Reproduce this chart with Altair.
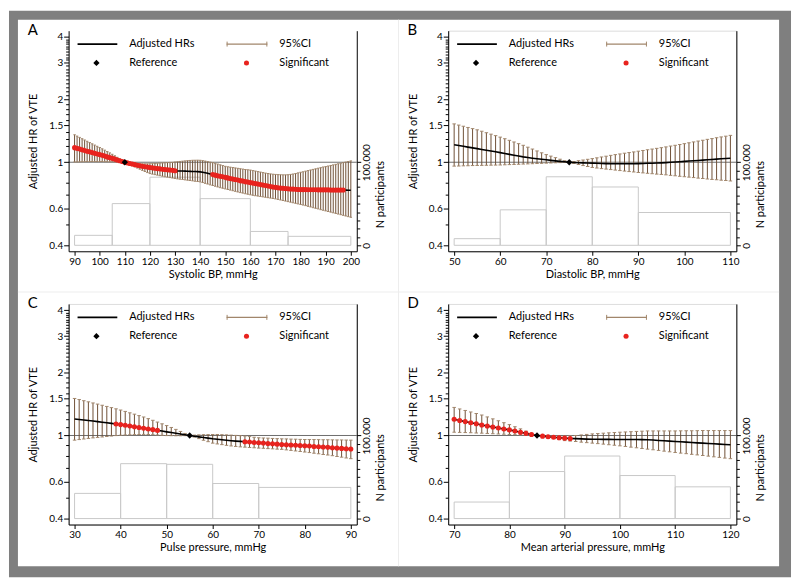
import altair as alt
import pandas as pd

FONT = "Lato"
SPIKE = "#6f5036"
CAP = "#a1866b"
RED = "#e8231e"
HISTC = "#c9c9c9"

# ---------------- Panel A : Systolic BP (x = 90 .. 200, step 1)
A_start = 90
A_hr = [1.175, 1.166, 1.157, 1.148, 1.139, 1.130, 1.122, 1.113, 1.105, 1.096, 1.088,
        1.079, 1.070, 1.061, 1.052, 1.044, 1.035, 1.026, 1.017, 1.009, 1.000,
        0.993, 0.986, 0.980, 0.974, 0.968, 0.962, 0.957, 0.952, 0.948, 0.944,
        0.940, 0.936, 0.932, 0.929, 0.926, 0.923, 0.920, 0.917, 0.914, 0.911,
        0.909, 0.908, 0.907, 0.906, 0.905, 0.904, 0.903, 0.902, 0.901, 0.899,
        0.895, 0.890, 0.885, 0.879, 0.873, 0.867, 0.861, 0.856, 0.851, 0.846,
        0.841, 0.836, 0.831, 0.826, 0.821, 0.816, 0.812, 0.807, 0.803, 0.798,
        0.794, 0.790, 0.786, 0.782, 0.777, 0.773, 0.769, 0.765, 0.761, 0.758,
        0.755, 0.752, 0.750, 0.748, 0.746, 0.744, 0.743, 0.741, 0.740, 0.739,
        0.739, 0.739, 0.738, 0.738, 0.738, 0.738, 0.737, 0.737, 0.737, 0.737,
        0.737, 0.736, 0.736, 0.736, 0.736, 0.735, 0.735, 0.735, 0.734, 0.734]
A_lo = [1.003, 1.004, 1.005, 1.006, 1.007, 1.008, 1.008, 1.008, 1.008, 1.008, 1.008,
        1.008, 1.007, 1.007, 1.006, 1.005, 1.004, 1.003, 1.002, 1.001, 1.000,
        0.987, 0.975, 0.962, 0.950, 0.938, 0.926, 0.914, 0.903, 0.892, 0.882,
        0.877, 0.872, 0.867, 0.862, 0.857, 0.852, 0.848, 0.844, 0.840, 0.836,
        0.832, 0.829, 0.826, 0.823, 0.820, 0.817, 0.814, 0.811, 0.808, 0.805,
        0.799, 0.792, 0.786, 0.779, 0.773, 0.767, 0.761, 0.755, 0.750, 0.745,
        0.740, 0.735, 0.730, 0.725, 0.720, 0.715, 0.711, 0.706, 0.702, 0.698,
        0.694, 0.691, 0.688, 0.685, 0.682, 0.679, 0.676, 0.673, 0.670, 0.667,
        0.663, 0.659, 0.655, 0.651, 0.647, 0.643, 0.639, 0.635, 0.631, 0.627,
        0.623, 0.619, 0.614, 0.610, 0.605, 0.601, 0.597, 0.592, 0.588, 0.584,
        0.580, 0.576, 0.572, 0.568, 0.564, 0.560, 0.556, 0.552, 0.548, 0.544]
A_hi = [1.355, 1.335, 1.316, 1.297, 1.279, 1.261, 1.243, 1.226, 1.209, 1.193, 1.177,
        1.160, 1.143, 1.126, 1.109, 1.092, 1.074, 1.056, 1.038, 1.019, 1.000,
        0.995, 0.991, 0.988, 0.986, 0.984, 0.983, 0.983, 0.983, 0.983, 0.984,
        0.985, 0.986, 0.988, 0.990, 0.992, 0.994, 0.996, 0.998, 0.999, 1.003,
        1.006, 1.009, 1.012, 1.015, 1.018, 1.020, 1.022, 1.023, 1.023, 1.022,
        1.018, 1.013, 1.007, 1.001, 0.995, 0.988, 0.980, 0.972, 0.964, 0.956,
        0.951, 0.947, 0.943, 0.939, 0.935, 0.931, 0.927, 0.923, 0.920, 0.917,
        0.912, 0.907, 0.902, 0.897, 0.892, 0.887, 0.883, 0.879, 0.876, 0.874,
        0.872, 0.871, 0.870, 0.870, 0.871, 0.874, 0.878, 0.883, 0.889, 0.895,
        0.900, 0.906, 0.912, 0.918, 0.924, 0.930, 0.936, 0.942, 0.948, 0.953,
        0.959, 0.965, 0.971, 0.977, 0.983, 0.989, 0.996, 1.002, 1.008, 1.015]
A_sig = [(90, 130), (145, 197)]
A_ref = 110
A_bin_lo = [90, 105, 120, 140, 160, 175]
A_bin_hi = [105, 120, 140, 160, 175, 200]
A_bin_n = [12000, 50200, 82000, 56200, 16700, 10800]
A_xticks = list(range(90, 201, 10))
A_xtitle = "Systolic BP, mmHg"

# ---------------- Panel B : Diastolic BP (x = 50 .. 110)
B_start = 50
B_hr = [1.214, 1.203, 1.193, 1.182, 1.172, 1.162, 1.152, 1.142, 1.132, 1.122, 1.112,
        1.101, 1.091, 1.081, 1.071, 1.061, 1.053, 1.046, 1.039, 1.033, 1.027,
        1.021, 1.015, 1.010, 1.005, 1.000, 0.997, 0.995, 0.993, 0.991, 0.990,
        0.988, 0.987, 0.985, 0.984, 0.983, 0.983, 0.983, 0.984, 0.984, 0.985,
        0.986, 0.988, 0.989, 0.991, 0.993, 0.996, 0.999, 1.002, 1.006, 1.010,
        1.013, 1.017, 1.020, 1.024, 1.027, 1.031, 1.035, 1.039, 1.042, 1.046]
B_lo = [0.958, 0.959, 0.961, 0.962, 0.964, 0.965, 0.966, 0.967, 0.968, 0.969, 0.970,
        0.972, 0.974, 0.976, 0.978, 0.980, 0.982, 0.984, 0.986, 0.988, 0.990,
        0.992, 0.994, 0.996, 0.998, 1.000, 0.987, 0.975, 0.964, 0.954, 0.944,
        0.938, 0.932, 0.927, 0.922, 0.917, 0.912, 0.907, 0.902, 0.898, 0.893,
        0.889, 0.885, 0.881, 0.877, 0.874, 0.870, 0.865, 0.861, 0.856, 0.852,
        0.848, 0.844, 0.839, 0.835, 0.831, 0.827, 0.824, 0.820, 0.817, 0.813]
B_hi = [1.528, 1.508, 1.489, 1.469, 1.450, 1.431, 1.409, 1.386, 1.364, 1.342, 1.320,
        1.297, 1.274, 1.251, 1.228, 1.206, 1.181, 1.157, 1.133, 1.110, 1.088,
        1.070, 1.052, 1.034, 1.017, 1.000, 1.009, 1.017, 1.025, 1.033, 1.041,
        1.050, 1.060, 1.069, 1.079, 1.088, 1.096, 1.105, 1.113, 1.121, 1.130,
        1.139, 1.148, 1.157, 1.166, 1.175, 1.185, 1.196, 1.206, 1.217, 1.228,
        1.240, 1.252, 1.264, 1.276, 1.288, 1.299, 1.311, 1.323, 1.334, 1.346]
B_sig = []
B_ref = 75
B_bin_lo = [50, 60, 70, 80, 90]
B_bin_hi = [60, 70, 80, 90, 110]
B_bin_n = [8000, 42700, 82500, 70200, 39500]
B_xticks = list(range(50, 111, 10))
B_xtitle = "Diastolic BP, mmHg"

# ---------------- Panel C : Pulse pressure (x = 30 .. 90)
C_start = 30
C_hr = [1.200, 1.193, 1.186, 1.180, 1.173, 1.166, 1.158, 1.151, 1.143, 1.136, 1.128,
        1.119, 1.110, 1.102, 1.093, 1.084, 1.075, 1.067, 1.058, 1.050, 1.041,
        1.033, 1.025, 1.016, 1.008, 1.000, 0.992, 0.985, 0.978, 0.971, 0.964,
        0.959, 0.954, 0.949, 0.944, 0.940, 0.937, 0.933, 0.930, 0.926, 0.923,
        0.920, 0.916, 0.913, 0.909, 0.906, 0.903, 0.901, 0.898, 0.896, 0.893,
        0.890, 0.886, 0.883, 0.880, 0.877, 0.874, 0.870, 0.867, 0.864, 0.861]
C_lo = [0.950, 0.956, 0.962, 0.968, 0.974, 0.979, 0.984, 0.989, 0.994, 0.999, 1.003,
        1.006, 1.008, 1.010, 1.011, 1.012, 1.011, 1.009, 1.006, 1.002, 0.999,
        0.998, 0.997, 0.997, 0.998, 1.000, 0.983, 0.966, 0.949, 0.934, 0.919,
        0.911, 0.904, 0.897, 0.891, 0.886, 0.882, 0.879, 0.876, 0.873, 0.870,
        0.868, 0.865, 0.863, 0.860, 0.858, 0.853, 0.848, 0.843, 0.838, 0.833,
        0.828, 0.822, 0.817, 0.811, 0.806, 0.800, 0.793, 0.787, 0.780, 0.774]
C_hi = [1.506, 1.488, 1.469, 1.451, 1.433, 1.415, 1.397, 1.379, 1.361, 1.343, 1.325,
        1.305, 1.285, 1.266, 1.246, 1.227, 1.205, 1.183, 1.160, 1.138, 1.116,
        1.093, 1.070, 1.046, 1.023, 1.000, 1.004, 1.007, 1.009, 1.010, 1.011,
        1.011, 1.009, 1.007, 1.004, 1.001, 0.998, 0.994, 0.988, 0.981, 0.975,
        0.973, 0.971, 0.968, 0.966, 0.964, 0.963, 0.961, 0.960, 0.958, 0.957,
        0.956, 0.956, 0.955, 0.955, 0.954, 0.953, 0.952, 0.952, 0.951, 0.950]
C_sig = [(39, 48), (67, 90)]
C_ref = 55
C_bin_lo = [30, 40, 50, 60, 70]
C_bin_hi = [40, 50, 60, 70, 90]
C_bin_n = [30300, 66100, 65300, 42200, 37500]
C_xticks = list(range(30, 91, 10))
C_xtitle = "Pulse pressure, mmHg"

# ---------------- Panel D : Mean arterial pressure (x = 70 .. 120)
D_start = 70
D_hr = [1.196, 1.181, 1.166, 1.152, 1.138, 1.124, 1.111, 1.099, 1.087, 1.075, 1.064,
        1.050, 1.037, 1.024, 1.012, 1.000, 0.993, 0.986, 0.981, 0.976, 0.971,
        0.968, 0.966, 0.963, 0.961, 0.960, 0.959, 0.958, 0.958, 0.957, 0.957,
        0.957, 0.956, 0.956, 0.955, 0.954, 0.951, 0.947, 0.943, 0.940, 0.936,
        0.933, 0.929, 0.926, 0.922, 0.919, 0.916, 0.913, 0.909, 0.906, 0.903]
D_lo = [1.037, 1.035, 1.033, 1.031, 1.028, 1.026, 1.023, 1.020, 1.017, 1.014, 1.011,
        1.009, 1.007, 1.004, 1.002, 1.000, 0.989, 0.978, 0.967, 0.956, 0.945,
        0.940, 0.935, 0.929, 0.924, 0.919, 0.914, 0.909, 0.903, 0.898, 0.892,
        0.886, 0.879, 0.873, 0.866, 0.860, 0.854, 0.848, 0.841, 0.835, 0.829,
        0.823, 0.818, 0.812, 0.807, 0.801, 0.796, 0.790, 0.785, 0.779, 0.774]
D_hi = [1.364, 1.341, 1.319, 1.297, 1.275, 1.254, 1.228, 1.202, 1.177, 1.152, 1.128,
        1.102, 1.076, 1.050, 1.025, 1.000, 0.996, 0.994, 0.993, 0.993, 0.994,
        0.997, 1.001, 1.006, 1.012, 1.018, 1.022, 1.026, 1.030, 1.034, 1.037,
        1.040, 1.043, 1.046, 1.049, 1.052, 1.052, 1.052, 1.052, 1.052, 1.052,
        1.053, 1.054, 1.054, 1.055, 1.056, 1.056, 1.056, 1.056, 1.056, 1.056]
D_sig = [(70, 84), (86, 91)]
D_ref = 85
D_bin_lo = [70, 80, 90, 100, 110]
D_bin_hi = [80, 90, 100, 110, 120]
D_bin_n = [19900, 56600, 75300, 51800, 38200]
D_xticks = list(range(70, 121, 10))
D_xtitle = "Mean arterial pressure, mmHg"

# ---------------- axes
HR_MAJOR = [0.4, 0.6, 1, 1.5, 2, 3, 4]
HR_TICKS = [round(0.4 + 0.1 * i, 1) for i in range(37)]
N_TICKS = list(range(0, 100001, 10000))

W, H = 290, 222
HR_DOMAIN = [0.3737, 4.282]
N_DOMAIN = [-7177, 258373]

major_test = "indexof([0.4,0.6,1,1.5,2,3,4], datum.value) >= 0"

common_axis = dict(domainColor="black", tickColor="black", labelColor="black",
                   labelFont=FONT, labelFontSize=10, titleFont=FONT, titleFontSize=11,
                   titleFontWeight="normal", titleColor="black", grid=False,
                   labelOverlap=False, labelFlush=False, zindex=1, domainWidth=1, tickWidth=1)

hr_axis = alt.Axis(orient="left", values=HR_TICKS,
                   labelExpr=f"({major_test}) ? format(datum.value, '~g') : ''",
                   tickSize={"condition": {"test": f"!({major_test})", "value": 3}, "value": 5},
                   labelPadding=1, title="Adjusted HR of VTE", titleX=-35, titleY=111,
                   titleAngle=270, titleAlign="center", titleBaseline="middle", **common_axis)

n_axis = alt.Axis(orient="right", values=N_TICKS,
                  labelExpr="datum.value == 0 ? '0' : (datum.value == 100000 ? '100.000' : '')",
                  tickSize={"condition": {"test": "datum.value != 0 && datum.value != 100000", "value": 3}, "value": 4},
                  labelAngle=270, labelAlign="center", labelBaseline="top", labelPadding=1,
                  title="N participants", titleX=24, titleY=164.5, titleAngle=270,
                  titleAlign="center", titleBaseline="middle", **common_axis)

hr_scale = alt.Scale(type="log", domain=HR_DOMAIN, nice=False, zero=False)
n_scale = alt.Scale(domain=N_DOMAIN, nice=False, zero=False)


def one():
    return alt.Chart(pd.DataFrame({"k": [0]}))


def panel(letter, start, hr, lo, hi, sig, ref, blo, bhi, bn, xticks, xtitle, cap_w, first=False):
    assert len(hr) == len(lo) == len(hi), letter
    xs = list(range(start, start + len(hr)))
    df = pd.DataFrame({"x": xs, "hr": hr, "lo": lo, "hi": hi})
    df["sig"] = [any(a <= x <= b for a, b in sig) for x in xs]
    hist = pd.DataFrame({"b0": blo, "b1": bhi, "n": bn})

    x0, x1 = xticks[0], xticks[-1]
    pad = (x1 - x0) * 6 / 278
    xscale = alt.Scale(domain=[x0 - pad, x1 + pad], nice=False, zero=False)
    xaxis = alt.Axis(orient="bottom", values=xticks, format="d", tickSize=4, labelPadding=1,
                     title=xtitle, titleX=W / 2, titleY=23.5, titleAlign="center",
                     titleBaseline="middle", **common_axis)

    def X(f):
        return alt.X(f"{f}:Q", scale=xscale, axis=xaxis)

    def Y(f):
        return alt.Y(f"{f}:Q", scale=hr_scale, axis=hr_axis)

    base = alt.Chart(df)
    reflayer = alt.Chart(pd.DataFrame({"v": [1.0]})).mark_rule(color="#6e6e6e", strokeWidth=1).encode(y=Y("v"))
    spikes = base.mark_rule(color=SPIKE, strokeWidth=1).encode(x=X("x"), y=Y("lo"), y2="hi:Q")
    cap_lo = base.mark_tick(orient="horizontal", color=CAP, size=cap_w, thickness=1, opacity=1).encode(x=X("x"), y=Y("lo"))
    cap_hi = base.mark_tick(orient="horizontal", color=CAP, size=cap_w, thickness=1, opacity=1).encode(x=X("x"), y=Y("hi"))
    line = base.mark_line(color="black", strokeWidth=1.6).encode(x=X("x"), y=Y("hr"))
    dots = base.transform_filter("datum.sig").mark_circle(color=RED, size=26, opacity=1).encode(x=X("x"), y=Y("hr"))
    diamond = alt.Chart(pd.DataFrame({"x": [ref], "v": [1.0]})).mark_point(
        shape="diamond", filled=True, color="black", size=40, opacity=1).encode(x=X("x"), y=Y("v"))
    hr_layer = alt.layer(reflayer, spikes, cap_lo, cap_hi, line, dots, diamond)

    histlayer = alt.Chart(hist).mark_rect(fill="white", fillOpacity=0, stroke=HISTC, strokeWidth=1).encode(
        x=X("b0"), x2="b1:Q", y=alt.Y("n:Q", scale=n_scale, axis=n_axis), y2=alt.Y2Datum(0))

    layers = []
    if first:
        layers.append(one().mark_rect(color="#7f7f7f").encode(
            x=alt.value(-60), x2=alt.value(727), y=alt.value(-20), y2=alt.value(550)))
        layers.append(one().mark_rect(color="white").encode(
            x=alt.value(-51), x2=alt.value(715), y=alt.value(-11), y2=alt.value(539)))
        layers.append(one().mark_rule(color="#ededed", strokeWidth=1).encode(
            x=alt.value(332), y=alt.value(-11), y2=alt.value(539)))
        layers.append(one().mark_rule(color="#ededed", strokeWidth=1).encode(
            x=alt.value(-51), x2=alt.value(715), y=alt.value(263)))
    layers.append(histlayer)
    layers.append(hr_layer)

    # legend
    r1, r2 = 13.5, 32.5
    txt = dict(align="left", baseline="middle", font=FONT, fontSize=11, color="black")
    layers += [
        one().mark_rule(color="black", strokeWidth=1.6).encode(x=alt.value(9), x2=alt.value(49), y=alt.value(r1)),
        one().mark_text(**txt).encode(x=alt.value(61), y=alt.value(r1), text=alt.value("Adjusted HRs")),
        one().mark_rule(color=CAP, strokeWidth=1.4).encode(x=alt.value(159), x2=alt.value(200), y=alt.value(r1)),
        one().mark_rule(color=CAP, strokeWidth=1).encode(x=alt.value(159.5), y=alt.value(r1 - 2.5), y2=alt.value(r1 + 2.5)),
        one().mark_rule(color=CAP, strokeWidth=1).encode(x=alt.value(199.5), y=alt.value(r1 - 2.5), y2=alt.value(r1 + 2.5)),
        one().mark_text(**txt).encode(x=alt.value(212), y=alt.value(r1), text=alt.value("95%CI")),
        one().mark_point(shape="diamond", filled=True, color="black", size=40, opacity=1).encode(x=alt.value(28), y=alt.value(r2)),
        one().mark_text(**txt).encode(x=alt.value(61), y=alt.value(r2), text=alt.value("Reference")),
        one().mark_circle(color=RED, size=26, opacity=1).encode(x=alt.value(179), y=alt.value(r2)),
        one().mark_text(**txt).encode(x=alt.value(212), y=alt.value(r2), text=alt.value("Significant")),
        one().mark_text(align="left", baseline="middle", font=FONT, fontSize=15, color="black").encode(
            x=alt.value(-41), y=alt.value(-1), text=alt.value(letter)),
    ]
    return alt.layer(*layers).resolve_scale(y="independent").properties(width=W, height=H)


pA = panel("A", A_start, A_hr, A_lo, A_hi, A_sig, A_ref, A_bin_lo, A_bin_hi, A_bin_n, A_xticks, A_xtitle, 2.5, first=True)
pB = panel("B", B_start, B_hr, B_lo, B_hi, B_sig, B_ref, B_bin_lo, B_bin_hi, B_bin_n, B_xticks, B_xtitle, 3.5)
pC = panel("C", C_start, C_hr, C_lo, C_hi, C_sig, C_ref, C_bin_lo, C_bin_hi, C_bin_n, C_xticks, C_xtitle, 3.5)
pD = panel("D", D_start, D_hr, D_lo, D_hi, D_sig, D_ref, D_bin_lo, D_bin_hi, D_bin_n, D_xticks, D_xtitle, 3.5)

chart = alt.concat(pA, pB, pC, pD, columns=2, spacing={"row": 53, "column": 92}, bounds="flush").properties(
    padding=0
).configure_view(strokeWidth=0).configure(background="white")

chart.save("out.html", embed_options={"renderer": "svg", "actions": False})
